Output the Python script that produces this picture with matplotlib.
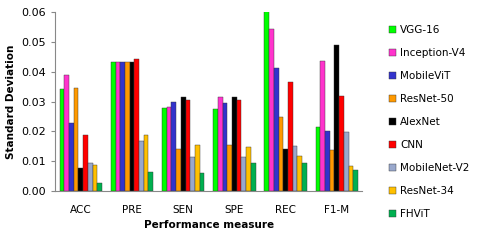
import numpy as np
import matplotlib
matplotlib.use("Agg")
import matplotlib.pyplot as plt

measures = ["ACC", "PRE", "SEN", "SPE", "REC", "F1-M"]
models = ["VGG-16", "Inception-V4", "MobileViT", "ResNet-50", "AlexNet",
          "CNN", "MobileNet-V2", "ResNet-34", "FHViT"]
colors = ["#00FF00", "#FF33CC", "#3333CC", "#FF9900", "#000000",
          "#FF0000", "#99A8CC", "#FFC000", "#00B050"]

vgg16 = [0.0342, 0.0434, 0.0279, 0.0274, 0.0604, 0.0213]
inception_v4 = [0.0388, 0.0434, 0.0283, 0.0314, 0.0542, 0.0437]
mobilevit = [0.0227, 0.0434, 0.0297, 0.0295, 0.0412, 0.0200]
resnet50 = [0.0346, 0.0434, 0.0141, 0.0154, 0.0249, 0.0136]
alexnet = [0.0077, 0.0434, 0.0316, 0.0316, 0.0141, 0.0490]
cnn = [0.0188, 0.0444, 0.0306, 0.0304, 0.0366, 0.0317]
mobilenet_v2 = [0.0093, 0.0168, 0.0113, 0.0115, 0.0152, 0.0197]
resnet34 = [0.0086, 0.0188, 0.0153, 0.0149, 0.0118, 0.0084]
fhvit = [0.0028, 0.0064, 0.0061, 0.0095, 0.0094, 0.0070]

series = [vgg16, inception_v4, mobilevit, resnet50, alexnet, cnn,
          mobilenet_v2, resnet34, fhvit]

fig = plt.figure(figsize=(4.8, 2.4), dpi=100)
ax = fig.add_axes([0.115, 0.204, 0.64, 0.746])

x = np.arange(len(measures))
w = 0.092
for i, (vals, name, c) in enumerate(zip(series, models, colors)):
    ax.bar(x + (i - 4) * w, vals, width=w, color=c, label=name,
           edgecolor="#333333", linewidth=0.3)

ax.set_xlim(-0.5, len(measures) - 0.5)
ax.set_ylim(0, 0.06)
ax.set_yticks(np.arange(0, 0.061, 0.01))
ax.set_yticklabels([f"{v:.2f}" for v in np.arange(0, 0.061, 0.01)], fontsize=8)
ax.set_xticks(x)
ax.set_xticklabels(measures, fontsize=7.5)
ax.tick_params(axis="x", length=0, pad=10)
ax.tick_params(axis="y", length=3, color="#888888")

for s in ["top", "right"]:
    ax.spines[s].set_visible(False)
ax.spines["left"].set_color("#888888")
ax.spines["bottom"].set_color("#888888")

ax.set_ylabel("Standard Deviation", fontsize=7.5, fontweight="bold", labelpad=4)
ax.set_xlabel("Performance measure", fontsize=7.5, fontweight="bold", labelpad=4)

ax.legend(loc="center left", bbox_to_anchor=(1.055, 0.385), frameon=False,
          fontsize=7.5, handlelength=0.7, handleheight=0.7,
          handletextpad=0.4, labelspacing=1.25)

fig.savefig("out.png", dpi=100)
plt.close(fig)
